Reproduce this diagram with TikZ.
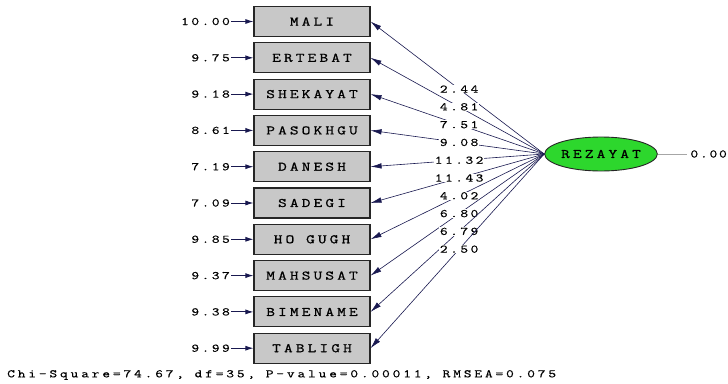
\documentclass[tikz,border=0pt]{standalone}
\usepackage{fontspec}
\newfontfamily\lisfont{Latin Modern Mono}[FakeStretch=1.3, LetterSpace=22, FakeBold=0.6]
\newfontfamily\fitfont{Latin Modern Mono}[FakeStretch=1.3, LetterSpace=25, FakeBold=0.6]
\newfontfamily\zerofont{Latin Modern Mono}[FakeStretch=1.3, LetterSpace=16, FakeBold=0.6]
\newfontfamily\boxfont{Latin Modern Mono}[FakeStretch=1.3, LetterSpace=24, FakeBold=1]
\usetikzlibrary{arrows.meta,shapes.geometric}
\definecolor{navy}{RGB}{25,25,80}
\definecolor{boxgray}{RGB}{200,200,200}
\definecolor{latgreen}{RGB}{45,215,45}
\begin{document}
\begin{tikzpicture}[x=1pt,y=-1pt,
  obs/.style={draw=black!85, line width=1.1pt, fill=boxgray, minimum width=116pt, minimum height=30pt, inner sep=0pt, font=\boxfont\fontsize{13}{13}\selectfont},
  lat/.style={ellipse, draw=black!85, line width=0.9pt, fill=latgreen, minimum width=112pt, minimum height=34pt, inner sep=0pt, font=\boxfont\fontsize{13}{13}\selectfont},
  small/.style={font=\lisfont\fontsize{11.5}{12}\selectfont, inner sep=1pt},
  errlab/.style={small, anchor=east},
  pathlab/.style={small, fill=white, inner sep=0.6pt, pos=0.49},
  errarrow/.style={draw=navy, line width=0.9pt, -{Latex[length=8pt,width=5pt]}},
  loading/.style={draw=navy, line width=0.6pt, -{Latex[length=11pt,width=5.5pt]}},
]
\useasboundingbox (0,0) rectangle (728,383);
\clip (0,0) rectangle (728,383);
\fill[white] (0,0) rectangle (728,383);

\node[lat] (rez) at (601,154) {REZAYAT};
\node[font=\zerofont\fontsize{11.5}{12}\selectfont, inner sep=0pt, anchor=east] (zero) at (727,154) {0.00};
\draw[gray!70, line width=0.6pt] (rez) -- ([xshift=-3pt]zero.west);

\foreach \name/\lab/\err [count=\i from 0] in {
  mali/MALI/10.00,
  ertebat/ERTEBAT/9.75,
  shekayat/SHEKAYAT/9.18,
  pasokhgu/PASOKHGU/8.61,
  danesh/DANESH/7.19,
  sadegi/SADEGI/7.09,
  hogugh/HO GUGH/9.85,
  mahsusat/MAHSUSAT/9.37,
  bimename/BIMENAME/9.38,
  tabligh/TABLIGH/9.99} {
  \node[obs] (\name) at (312,21.5+36.3*\i) {\lab};
  \node[errlab] (e\name) at (231,21.5+36.3*\i) {\err};
  \draw[errarrow] (e\name) -- (\name);
}
\foreach \name/\load in {
  mali/2.44, ertebat/4.81, shekayat/7.51, pasokhgu/9.08, danesh/11.32,
  sadegi/11.43, hogugh/4.02, mahsusat/6.80, bimename/6.79, tabligh/2.50} {
  \draw[loading] (rez.west) -- node[pathlab] {\load} (\name.east);
}

\node[font=\fitfont\fontsize{11.5}{12}\selectfont, inner sep=1pt, anchor=west] (fit) at (6,375) {Chi-Square=74.67, df=35, P-value=0.00011, RMSEA=0.075};
\end{tikzpicture}
\end{document}
